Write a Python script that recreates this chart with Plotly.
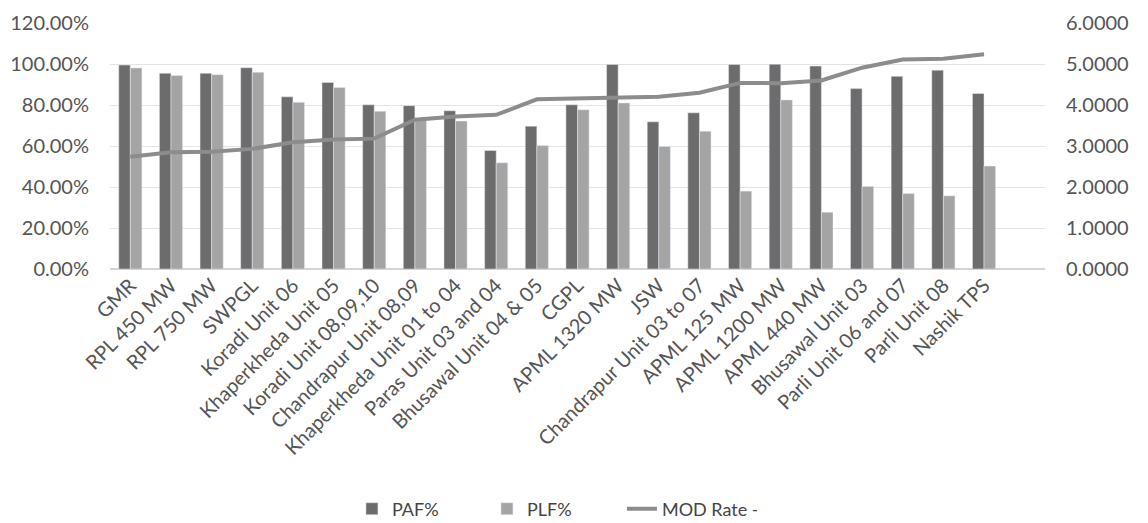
import plotly.graph_objects as go

categories = ["GMR", "RPL 450 MW", "RPL 750 MW", "SWPGL", "Koradi Unit 06",
              "Khaperkheda Unit 05", "Koradi Unit 08,09,10", "Chandrapur Unit 08,09",
              "Khaperkheda Unit 01 to 04", "Paras Unit 03 and 04", "Bhusawal Unit 04 & 05",
              "CGPL", "APML 1320 MW", "JSW", "Chandrapur Unit 03 to 07", "APML 125 MW",
              "APML 1200 MW", "APML 440 MW", "Bhusawal Unit 03", "Parli Unit 06 and 07",
              "Parli Unit 08", "Nashik TPS"]
paf = [0.995, 0.955, 0.955, 0.982, 0.840, 0.910, 0.801, 0.797, 0.772, 0.578, 0.697,
       0.801, 0.998, 0.718, 0.762, 0.998, 0.999, 0.990, 0.880, 0.940, 0.970, 0.856]
plf = [0.981, 0.944, 0.948, 0.960, 0.813, 0.886, 0.770, 0.725, 0.722, 0.518, 0.602,
       0.777, 0.810, 0.598, 0.672, 0.380, 0.825, 0.277, 0.403, 0.368, 0.357, 0.502]
mod_rate = [2.74, 2.85, 2.86, 2.93, 3.09, 3.16, 3.18, 3.64, 3.72, 3.76, 4.14,
            4.16, 4.17, 4.20, 4.30, 4.54, 4.53, 4.60, 4.91, 5.11, 5.13, 5.24]
pct_ticks = [0, 0.2, 0.4, 0.6, 0.8, 1.0, 1.2]
rate_ticks = [0, 1, 2, 3, 4, 5, 6]

fig = go.Figure()
fig.add_trace(go.Bar(x=categories, y=paf, name="PAF%", marker_color="#6c6c6c"))
fig.add_trace(go.Bar(x=categories, y=plf, name="PLF%", marker_color="#a4a4a4"))
fig.add_trace(go.Scatter(x=categories, y=mod_rate, name="MOD Rate -", yaxis="y2",
                         mode="lines", line=dict(color="#8c8c8c", width=4)))

font = "Lato, Open Sans, sans-serif"
fig.update_layout(
    width=1148, height=523,
    margin=dict(l=102, r=111, t=15, b=262),
    paper_bgcolor="white", plot_bgcolor="white",
    barmode="group", bargap=0.43, bargroupgap=0,
    font=dict(family=font, color="#555555", size=20),
    xaxis=dict(range=[-0.5, len(categories) + 0.5], tickangle=-45,
               tickfont=dict(size=20, color="#555555"),
               showgrid=False, showline=False, ticks="", automargin=False),
    yaxis=dict(range=[0, 1.2001], tickmode="array", tickvals=pct_ticks,
               tickformat=".2%", tickfont=dict(size=20, color="#555555"),
               gridcolor="#e4e4e4", zeroline=True, zerolinecolor="#d4d4d4",
               ticklabelstandoff=20, automargin=False, ticklabeloverflow="allow"),
    yaxis2=dict(range=[0, 6.0005], tickmode="array", tickvals=rate_ticks,
                tickformat=".4f", overlaying="y", side="right",
                tickfont=dict(size=20, color="#555555"), showgrid=False, zeroline=False,
                ticklabelstandoff=20, automargin=False, ticklabeloverflow="allow"),
    legend=dict(orientation="h", xref="container", yref="container",
                x=0.476, xanchor="center", y=0.042, yanchor="middle",
                font=dict(size=18, color="#444444"), traceorder="normal",
                entrywidth=90),
)

fig.write_html("out.html")
